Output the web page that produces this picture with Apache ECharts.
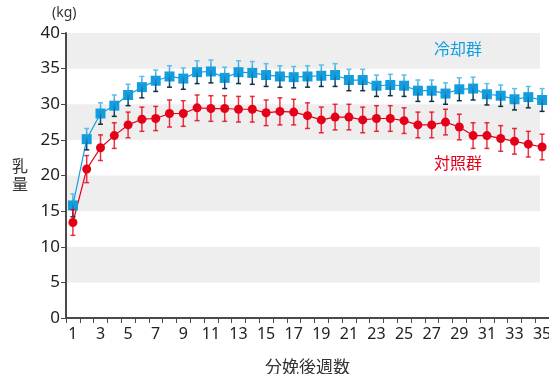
<!DOCTYPE html>
<html>
<head>
<meta charset="utf-8">
<script src="https://cdn.jsdelivr.net/npm/echarts@6/dist/echarts.min.js"></script>
<style>
  html, body { margin: 0; padding: 0; background: #ffffff; }
  #chart { width: 549px; height: 374px; }
</style>
</head>
<body>
<div id="chart"></div>
<script>
// Weeks after calving
const weeks = ['1','2','3','4','5','6','7','8','9','10','11','12','13','14','15','16','17','18',
  '19','20','21','22','23','24','25','26','27','28','29','30','31','32','33','34','35'];

// Cooled group (冷却群): mean milk yield (kg) and error
const coolMean = [15.8, 25.1, 28.7, 29.8, 31.3, 32.4, 33.3, 33.9, 33.6, 34.5, 34.6, 33.7, 34.5, 34.4,
  34.1, 33.9, 33.8, 33.9, 34.0, 34.1, 33.4, 33.4, 32.6, 32.7, 32.6, 31.9, 31.9, 31.5, 32.1, 32.2,
  31.4, 31.2, 30.7, 31.0, 30.6];
const coolErr = [1.6, 1.5, 1.5, 1.5, 1.5, 1.5, 1.5, 1.5, 1.5, 1.6, 1.6, 1.5, 1.6, 1.6, 1.6, 1.5, 1.5,
  1.5, 1.5, 1.6, 1.5, 1.5, 1.5, 1.5, 1.5, 1.5, 1.5, 1.5, 1.6, 1.6, 1.5, 1.5, 1.5, 1.5, 1.6];

// Control group (対照群): mean milk yield (kg) and error
const ctrlMean = [13.4, 20.9, 23.9, 25.6, 27.1, 27.9, 28.0, 28.7, 28.7, 29.5, 29.4, 29.4, 29.3, 29.3,
  28.8, 29.0, 28.9, 28.4, 27.8, 28.2, 28.2, 27.8, 28.0, 28.0, 27.7, 27.1, 27.1, 27.5, 26.8, 25.6,
  25.6, 25.2, 24.8, 24.4, 24.0];
const ctrlErr = [1.8, 1.9, 1.8, 1.8, 1.8, 1.7, 1.7, 1.9, 1.8, 1.8, 1.8, 1.8, 1.8, 1.8, 1.8, 1.9, 1.8,
  1.8, 1.8, 1.8, 1.8, 1.8, 1.8, 1.8, 1.8, 1.8, 1.8, 1.8, 1.8, 1.8, 1.8, 1.8, 1.8, 1.8, 1.8];

// Value axis range and step
const yMin = 0, yMax = 40, yStep = 5;

const BLUE = '#119ee0';
const RED = '#e50019';
const AXIS = '#4a4a4a';
const FONT = '"Noto Sans", "Noto Sans CJK JP", sans-serif';

function errorData(mean, err) {
  return mean.map((m, i) => [i, m - err[i], m + err[i]]);
}

function errorBars(kind) {
  return function (params, api) {
    const x = api.value(0);
    const lo = api.coord([x, api.value(1)]);
    const hi = api.coord([x, api.value(2)]);
    const half = 2.5;
    let stroke;
    if (kind === 'cool') {
      stroke = new echarts.graphic.LinearGradient(0, hi[1], 0, lo[1], [
        { offset: 0, color: '#5bc0ee' },
        { offset: 0.5, color: '#1a86c0' },
        { offset: 1, color: '#0c2f48' }
      ], true);
    } else {
      stroke = 'rgba(229,0,25,0.8)';
    }
    const style = { stroke: stroke, lineWidth: 1.5 };
    return {
      type: 'group',
      children: [
        { type: 'line', shape: { x1: lo[0], y1: lo[1], x2: hi[0], y2: hi[1] }, style: style },
        { type: 'line', shape: { x1: hi[0] - half, y1: hi[1], x2: hi[0] + half, y2: hi[1] }, style: style },
        { type: 'line', shape: { x1: lo[0] - half, y1: lo[1], x2: lo[0] + half, y2: lo[1] }, style: style }
      ]
    };
  };
}

const chart = echarts.init(document.getElementById('chart'), null, { renderer: 'canvas' });

chart.setOption({
  animation: false,
  backgroundColor: '#ffffff',
  grid: [
    // banded background
    { left: 66, top: 33, bottom: 56, width: 474, outerBoundsMode: 'none', containLabel: false },
    // data plot
    { left: 66, top: 33, bottom: 56, right: 0, outerBoundsMode: 'none', containLabel: false }
  ],
  xAxis: [
    { gridIndex: 0, type: 'value', show: false, min: 0, max: 1 },
    {
      gridIndex: 1,
      type: 'category',
      data: weeks,
      boundaryGap: true,
      axisLine: { lineStyle: { color: AXIS, width: 2 } },
      axisTick: { show: true, interval: 0, length: 5, lineStyle: { color: AXIS, width: 1 } },
      axisLabel: { interval: 1, color: '#222', fontSize: 16, fontFamily: FONT, margin: 8 },
      name: '分娩後週数',
      nameLocation: 'middle',
      nameGap: 42,
      nameTextStyle: { color: '#333', fontSize: 17, fontFamily: FONT }
    }
  ],
  yAxis: [
    {
      gridIndex: 0, type: 'value', min: yMin, max: yMax, interval: yStep,
      axisLine: { show: false }, axisTick: { show: false }, axisLabel: { show: false },
      splitLine: { show: false },
      splitArea: { show: true, areaStyle: { color: ['rgba(255,255,255,0)', '#eeeeee'] } }
    },
    {
      gridIndex: 1, type: 'value', min: yMin, max: yMax, interval: yStep,
      axisLine: { show: true, lineStyle: { color: AXIS, width: 2 } },
      axisTick: { show: true, length: 5, lineStyle: { color: AXIS, width: 1 } },
      axisLabel: { color: '#222', fontSize: 17, fontFamily: FONT, margin: 6 },
      splitLine: { show: false }
    }
  ],
  graphic: [
    { type: 'text', id: 'unit', z: 100, left: 52, top: 6, style: { text: '(kg)', fill: '#333', font: '14px ' + FONT } },
    { type: 'text', id: 'yname', z: 100, left: 12, top: 158, style: { text: '乳\n量', fill: '#333', font: '16px ' + FONT, lineHeight: 18 } },
    { type: 'text', id: 'coolLabel', z: 100, left: 434, top: 42, style: { text: '冷却群', fill: BLUE, font: '16px ' + FONT } },
    { type: 'text', id: 'ctrlLabel', z: 100, left: 434, top: 156, style: { text: '対照群', fill: RED, font: '16px ' + FONT } }
  ],
  series: [
    {
      name: '冷却群',
      type: 'line',
      xAxisIndex: 1, yAxisIndex: 1,
      data: coolMean,
      symbol: 'rect',
      symbolSize: 10,
      showAllSymbol: true,
      lineStyle: { color: BLUE, width: 1.2 },
      itemStyle: { color: BLUE },
      z: 3
    },
    {
      name: '冷却群 error',
      type: 'custom',
      xAxisIndex: 1, yAxisIndex: 1,
      data: errorData(coolMean, coolErr),
      encode: { x: 0, y: [1, 2] },
      renderItem: errorBars('cool'),
      z: 4
    },
    {
      name: '対照群',
      type: 'line',
      xAxisIndex: 1, yAxisIndex: 1,
      data: ctrlMean,
      symbol: 'circle',
      symbolSize: 9,
      showAllSymbol: true,
      lineStyle: { color: RED, width: 1.2 },
      itemStyle: { color: RED },
      z: 3
    },
    {
      name: '対照群 error',
      type: 'custom',
      xAxisIndex: 1, yAxisIndex: 1,
      data: errorData(ctrlMean, ctrlErr),
      encode: { x: 0, y: [1, 2] },
      renderItem: errorBars('ctrl'),
      z: 4
    }
  ]
});
</script>
</body>
</html>
